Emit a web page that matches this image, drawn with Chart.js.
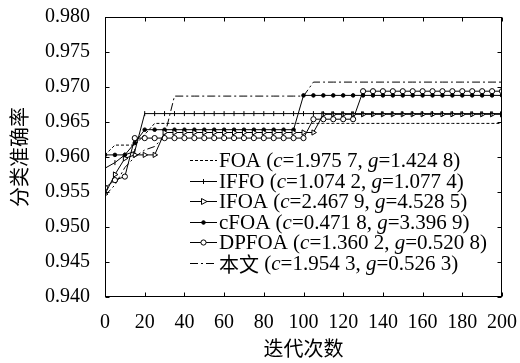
<!DOCTYPE html>
<html><head><meta charset="utf-8">
<script src="https://cdn.jsdelivr.net/npm/chart.js@4/dist/chart.umd.min.js"></script>
<style>html,body{margin:0;padding:0;background:#fff}#wrap{width:520px;height:363px;position:relative}</style>
</head><body>
<div id="wrap"><canvas id="c"></canvas></div>
<script>
// ---- data ----
const iterations = [0,5,10,15,20,25,30,35,40,45,50,55,60,65,70,75,80,85,90,95,100,105,110,115,120,125,130,135,140,145,150,155,160,165,170,175,180,185,190,195,200];
const xTickLabels = [0,20,40,60,80,100,120,140,160,180,200];
const yTickLabels = ['0.940','0.945','0.950','0.955','0.960','0.965','0.970','0.975','0.980'];
const seriesNames = ['FOA','IFFO','IFOA','cFOA','DPFOA','本文'];
const paramC = ['1.975 7','1.074 2','2.467 9','0.471 8','1.360 2','1.954 3'];
const paramG = ['1.424 8','1.077 4','4.528 5','3.396 9','0.520 8','0.526 3'];

const foa = [0.9603,0.9617,0.9617,0.9617,0.9632,
  0.9648,0.9648,0.9648,0.9648,0.9648,0.9648,
  0.9648,0.9648,0.9648,0.9648,0.9648,0.9648,
  0.9648,0.9648,0.9648,0.9648,0.9648,0.9648,
  0.9648,0.9648,0.9648,0.9648,0.9648,0.9648,
  0.9648,0.9648,0.9648,0.9648,0.9648,0.9648,
  0.9648,0.9648,0.9648,0.9648,0.9648,0.9648];
const iffo = [0.9584,0.9592,0.9603,0.9608,
  0.9662,0.9662,0.9662,0.9662,0.9662,0.9662,0.9662,0.9662,0.9662,0.9662,
  0.9662,0.9662,0.9662,0.9662,0.9662,0.9662,0.9662,0.9662,0.9662,0.9662,
  0.9662,0.9662,0.9662,0.9662,0.9662,0.9662,0.9662,0.9662,0.9662,0.9662,
  0.9662,0.9662,0.9662,0.9662,0.9662,0.9662,0.9662];
const ifoa = [0.9547,0.9575,0.9598,0.9603,0.9603,0.9603,
  0.9635,0.9635,0.9635,0.9635,0.9635,0.9635,0.9635,0.9635,
  0.9635,0.9635,0.9635,0.9635,0.9635,0.9635,0.9635,0.9635,
  0.9661,0.9661,0.9661,0.9661,0.9661,0.9661,0.9661,0.9661,0.9661,0.9661,
  0.9661,0.9661,0.9661,0.9661,0.9661,0.9661,0.9661,0.9661,0.9661];
const cfoa = [0.9603,0.9603,0.9603,0.9620,
  0.9639,0.9639,0.9639,0.9639,0.9639,0.9639,0.9639,0.9639,
  0.9639,0.9639,0.9639,0.9639,0.9639,0.9639,0.9639,0.9639,
  0.9688,0.9688,0.9688,0.9688,0.9688,0.9688,0.9688,0.9688,0.9688,0.9688,0.9688,
  0.9688,0.9688,0.9688,0.9688,0.9688,0.9688,0.9688,0.9688,0.9688,0.9688];
const dpfoa = [0.9556,0.9567,0.9572,
  0.9627,0.9627,0.9627,0.9627,0.9627,0.9627,0.9627,0.9627,0.9627,
  0.9627,0.9627,0.9627,0.9627,0.9627,0.9627,0.9627,0.9627,0.9627,
  0.9654,0.9654,0.9654,0.9654,0.9654,
  0.9694,0.9694,0.9694,0.9694,0.9694,0.9694,0.9694,0.9694,
  0.9694,0.9694,0.9694,0.9694,0.9694,0.9694,0.9694];
const benwen = [0.9545,0.9560,0.9585,0.9600,0.9610,0.9615,0.9630,
  0.9687,0.9687,0.9687,0.9687,0.9687,0.9687,0.9687,
  0.9687,0.9687,0.9687,0.9687,0.9687,0.9687,0.9687,
  0.9707,0.9707,0.9707,0.9707,0.9707,0.9707,0.9707,0.9707,0.9707,0.9707,
  0.9707,0.9707,0.9707,0.9707,0.9707,0.9707,0.9707,0.9707,0.9707,0.9707];

// ---- styles ----
const SERIF = '"Liberation Serif", "DejaVu Serif", serif';
const CJK = '"Noto Sans CJK SC", sans-serif';
const pts = arr => iterations.map((x, i) => ({x, y: arr[i]}));
const styles = [
  {borderDash:[3,2], pointRadius:0},
  {pointStyle:'line', rotation:90, pointRadius:2.5},
  {pointStyle:'triangle', rotation:90, pointRadius:3, pointBackgroundColor:'#fff'},
  {pointStyle:'circle', pointRadius:1.8, pointBackgroundColor:'#000'},
  {pointStyle:'circle', pointRadius:2.6, pointBackgroundColor:'#fff'},
  {borderDash:[8,3,2,3], pointRadius:0}
];
const allData = [foa, iffo, ifoa, cfoa, dpfoa, benwen];
const datasets = allData.map((arr, i) => Object.assign({
  label: seriesNames[i], data: pts(arr), borderColor:'#000', borderWidth:1,
  pointBorderColor:'#000', pointBorderWidth:1, pointHoverRadius:0, tension:0, fill:false
}, styles[i]));

const framePlugin = {
  id:'frame',
  afterDatasetsDraw(chart){
    const {ctx, chartArea:a, scales:{x, y}} = chart;
    ctx.save();
    ctx.strokeStyle = '#000'; ctx.lineWidth = 1; ctx.setLineDash([]);
    const L = Math.round(a.left)+0.5, R = Math.round(a.right)-0.5, T = Math.round(a.top)+0.5, B = Math.round(a.bottom)-0.5;
    ctx.strokeRect(L, T, R-L, B-T);
    ctx.beginPath();
    xTickLabels.forEach(v => { const px = Math.round(x.getPixelForValue(v))+0.5;
      ctx.moveTo(px, B); ctx.lineTo(px, B-4); ctx.moveTo(px, T); ctx.lineTo(px, T+4); });
    yTickLabels.forEach(v => { const py = Math.round(y.getPixelForValue(parseFloat(v)))+0.5;
      ctx.moveTo(L, py); ctx.lineTo(L+4, py); ctx.moveTo(R, py); ctx.lineTo(R-4, py); });
    ctx.stroke();
    ctx.restore();
  },
  afterDraw(chart){
    const ctx = chart.ctx;
    ctx.save();
    const x0 = 190, x1 = 217, tx = 219, y0 = 160, dy = 20.6;
    seriesNames.forEach((name, i) => {
      const yy = Math.round(y0 + i*dy) + 0.5;
      const st = styles[i];
      ctx.strokeStyle = '#000'; ctx.lineWidth = 1;
      ctx.setLineDash(st.borderDash || []);
      ctx.beginPath(); ctx.moveTo(x0, yy); ctx.lineTo(x1, yy); ctx.stroke();
      ctx.setLineDash([]);
      const cx = (x0 + x1)/2;
      ctx.beginPath();
      if (st.pointStyle === 'line') { ctx.moveTo(cx, yy-2.5); ctx.lineTo(cx, yy+2.5); ctx.stroke(); }
      else if (st.pointStyle === 'triangle') { ctx.moveTo(cx+3.5, yy); ctx.lineTo(cx-2, yy-3); ctx.lineTo(cx-2, yy+3); ctx.closePath(); ctx.fillStyle='#fff'; ctx.fill(); ctx.stroke(); }
      else if (st.pointStyle === 'circle') { ctx.arc(cx, yy, st.pointRadius, 0, Math.PI*2); ctx.fillStyle = st.pointBackgroundColor; ctx.fill(); ctx.stroke(); }
      const parts = [
        [name + ' (', 'n'],
        ['c', 'i'], ['=' + paramC[i] + ', ', 'n'], ['g', 'i'], ['=' + paramG[i] + ')', 'n']
      ];
      if (i === 5) { parts[0] = [name, 'cjk']; parts.splice(1, 0, [' (', 'n']); }
      let px = tx;
      ctx.fillStyle = '#000'; ctx.textBaseline = 'middle'; ctx.textAlign = 'left';
      parts.forEach(([t, f]) => {
        ctx.font = f === 'i' ? 'italic 21px ' + SERIF : (f === 'cjk' ? '20px ' + CJK : '21px ' + SERIF);
        ctx.fillText(t, px, yy + 1);
        px += ctx.measureText(t).width;
      });
    });
    ctx.restore();
  }
};

const noPad = s => { s.paddingTop = 0; s.paddingBottom = 0; s.paddingLeft = 0; s.paddingRight = 0; };

new Chart(document.getElementById('c'), {
  type:'line',
  data:{datasets},
  options:{
    responsive:true, maintainAspectRatio:false, animation:false,
    layout:{padding:{left:0, right:18, top:17, bottom:0}},
    plugins:{legend:{display:false}, tooltip:{enabled:false}},
    scales:{
      x:{type:'linear', min:0, max:200,
        afterBuildTicks: s => { s.ticks = xTickLabels.map(v => ({value:v})); },
        afterFit: s => { s.height = 66; noPad(s); },
        grid:{display:false, drawTicks:false}, border:{display:false},
        ticks:{color:'#000', font:{family:SERIF, size:20}, padding:14, maxRotation:0, autoSkip:false},
        title:{display:true, text:'迭代次数', color:'#000', font:{family:CJK, size:20}, padding:{top:0, bottom:3}}
      },
      y:{type:'linear', min:0.94, max:0.98,
        afterBuildTicks: s => { s.ticks = yTickLabels.map(v => ({value:parseFloat(v)})); },
        afterFit: s => { s.width = 105; noPad(s); },
        grid:{display:false, drawTicks:false}, border:{display:false},
        ticks:{color:'#000', font:{family:SERIF, size:20}, padding:15, autoSkip:false,
          callback:(v, idx) => yTickLabels[idx]},
        title:{display:true, text:'分类准确率', color:'#000', font:{family:CJK, size:20}, padding:{top:7, bottom:0}}
      }
    }
  },
  plugins:[framePlugin]
});
</script>
</body></html>
